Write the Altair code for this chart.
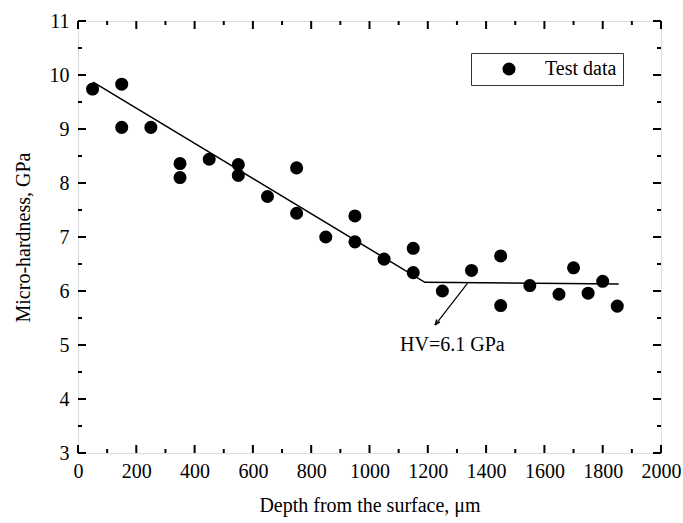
import altair as alt
import pandas as pd

depth = [50, 150, 150, 250, 350, 350, 450, 550, 550, 650, 750, 750, 850, 950, 950,
         1050, 1150, 1150, 1250, 1350, 1450, 1450, 1550, 1650, 1700, 1750, 1800, 1850]
hardness = [9.74, 9.83, 9.03, 9.03, 8.36, 8.10, 8.44, 8.34, 8.14, 7.75, 8.28, 7.44, 7.00, 7.39, 6.91,
            6.59, 6.79, 6.34, 6.00, 6.38, 6.65, 5.73, 6.10, 5.94, 6.43, 5.96, 6.18, 5.72]

fit_x = [52, 1190, 1855]
fit_y = [9.87, 6.16, 6.13]

arrow_x = [1336, 1225]
arrow_y = [6.14, 5.37]

note_x = [1105]
note_y = [5.0]
note_text = ["HV=6.1 GPa"]

x_major = list(range(0, 2001, 200))
x_minor = list(range(100, 2000, 200))
y_major = [3, 4, 5, 6, 7, 8, 9, 10, 11]
y_minor = [3.5, 4.5, 5.5, 6.5, 7.5, 8.5, 9.5, 10.5]

W, H = 583, 432
FONT = "Liberation Serif"

xs = alt.Scale(domain=[0, 2000], nice=False, zero=False)
ys = alt.Scale(domain=[3, 11], nice=False, zero=False)

pts = pd.DataFrame({"x": depth, "y": hardness, "s": ["Test data"] * len(depth)})
fit = pd.DataFrame({"x": fit_x, "y": fit_y})
arr = pd.DataFrame({"x": arrow_x, "y": arrow_y})
head = pd.DataFrame({"x": arrow_x[-1:], "y": arrow_y[-1:]})
note = pd.DataFrame({"x": note_x, "y": note_y, "t": note_text})

base_x = alt.X("x:Q", scale=xs, title="Depth from the surface, μm",
               axis=alt.Axis(values=x_major, format="d", ticks=False, domain=False, grid=False,
                             labelOverlap=False, labelFlush=False,
                             labelFont=FONT, labelFontSize=20, labelColor="black",
                             labelPadding=8, titleFont=FONT, titleFontSize=20,
                             titleFontWeight="normal", titleColor="black", titlePadding=14))
base_y = alt.Y("y:Q", scale=ys, title="Micro-hardness, GPa",
               axis=alt.Axis(values=y_major, format="d", ticks=False, domain=False, grid=False,
                             labelOverlap=False, labelFlush=False,
                             labelFont=FONT, labelFontSize=20, labelColor="black",
                             labelPadding=9, titleFont=FONT, titleFontSize=20,
                             titleFontWeight="normal", titleColor="black", titlePadding=16))

points = alt.Chart(pts).mark_point(filled=True, size=170, opacity=1, shape="circle").encode(
    x=base_x, y=base_y,
    color=alt.Color("s:N", scale=alt.Scale(range=["black"]),
                    legend=alt.Legend(orient="none", legendX=393, legendY=32, title=None,
                                      strokeColor="#333", fillColor="white", padding=6,
                                      symbolSize=170, symbolType="circle", symbolOffset=22,
                                      labelOffset=26, labelFont=FONT, labelFontSize=20,
                                      labelColor="black", symbolStrokeWidth=0)))

fit_line = alt.Chart(fit).mark_line(color="black", strokeWidth=1.5).encode(
    x=alt.X("x:Q", scale=xs), y=alt.Y("y:Q", scale=ys))

arrow_line = alt.Chart(arr).mark_line(color="black", strokeWidth=1.2).encode(
    x=alt.X("x:Q", scale=xs), y=alt.Y("y:Q", scale=ys))

arrow_head = alt.Chart(head).mark_point(
    shape="M0,0L-0.45,-1.2M0,0L0.45,-1.2", filled=False, color="black",
    strokeWidth=1.4, size=80, angle=37, opacity=1).encode(
    x=alt.X("x:Q", scale=xs), y=alt.Y("y:Q", scale=ys))

note_text_mark = alt.Chart(note).mark_text(align="left", baseline="middle", font=FONT,
                                           fontSize=20, color="black").encode(
    x=alt.X("x:Q", scale=xs), y=alt.Y("y:Q", scale=ys), text="t:N")

def xticks(vals, length):
    df = pd.DataFrame({"x": vals})
    bot = alt.Chart(df).mark_rule(color="black", strokeWidth=2).encode(
        x=alt.X("x:Q", scale=xs), y=alt.value(H), y2=alt.value(H - length))
    top = alt.Chart(df).mark_rule(color="black", strokeWidth=2).encode(
        x=alt.X("x:Q", scale=xs), y=alt.value(0), y2=alt.value(length))
    return [bot, top]

def yticks(vals, length):
    df = pd.DataFrame({"y": vals})
    left = alt.Chart(df).mark_rule(color="black", strokeWidth=2).encode(
        y=alt.Y("y:Q", scale=ys), x=alt.value(0), x2=alt.value(length))
    right = alt.Chart(df).mark_rule(color="black", strokeWidth=2).encode(
        y=alt.Y("y:Q", scale=ys), x=alt.value(W), x2=alt.value(W - length))
    return [left, right]

tick_layers = xticks(x_major, 8) + xticks(x_minor, 4) + yticks(y_major, 8) + yticks(y_minor, 4)

chart = alt.layer(
    points, fit_line, arrow_line, arrow_head, note_text_mark, *tick_layers
).properties(
    width=W, height=H,
    autosize=alt.AutoSizeParams(type="none"),
    padding={"left": 78, "top": 21, "right": 22, "bottom": 70},
    background="white",
).configure_view(stroke="black", strokeWidth=2.5).configure(font=FONT)

chart.save("out.html", embed_options={"renderer": "svg", "actions": False})
